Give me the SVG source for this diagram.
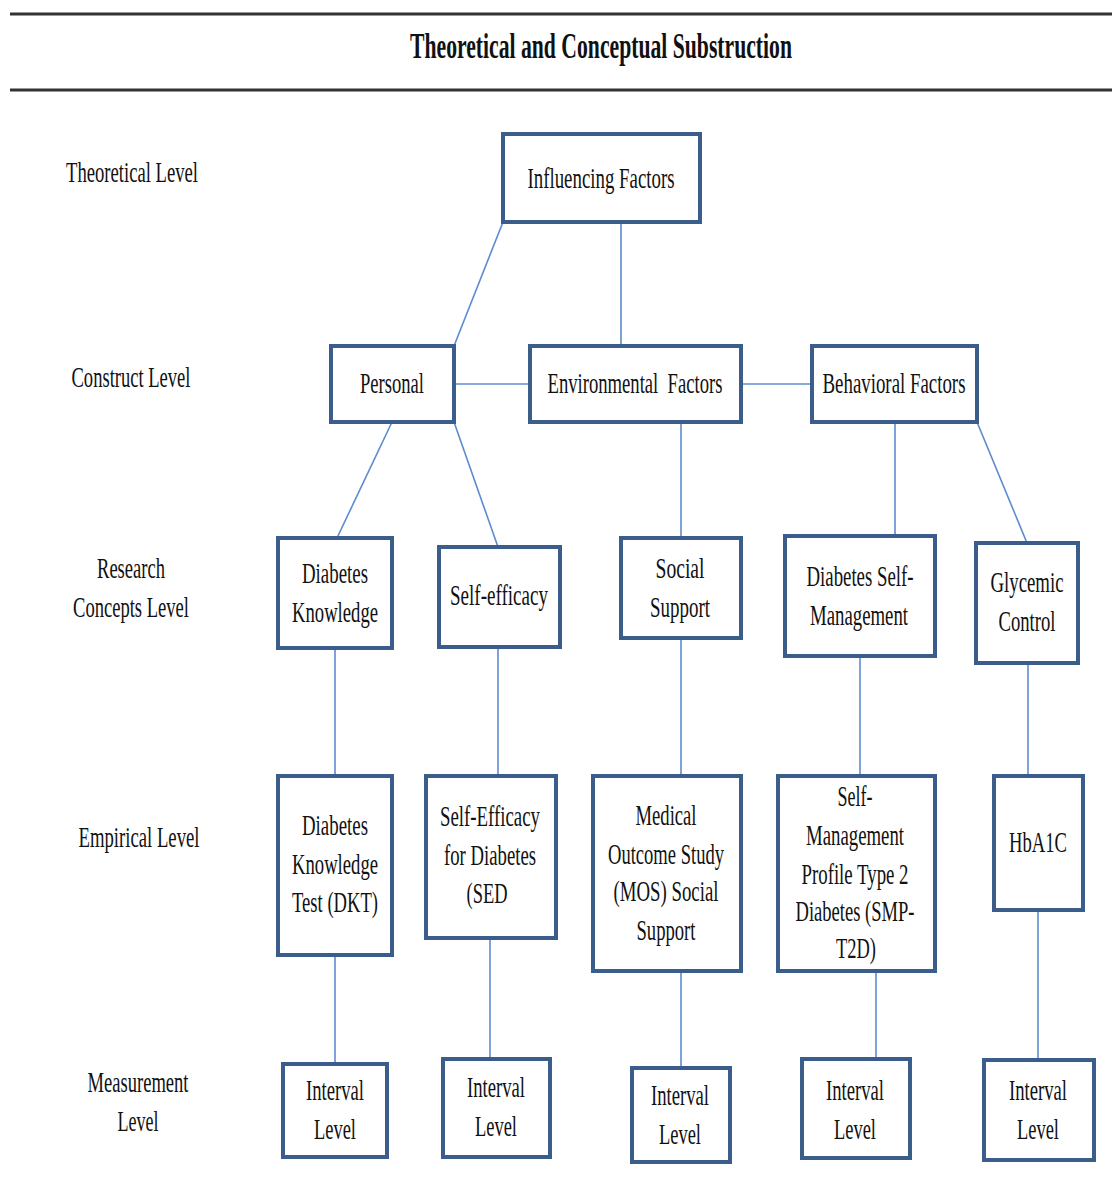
<svg xmlns="http://www.w3.org/2000/svg" width="1112" height="1187" viewBox="0 0 1112 1187">
<style>
text{font-family:"Liberation Serif","Times New Roman",serif;font-size:29px;fill:#111;text-anchor:middle}
.t{font-size:35px;font-weight:bold}
rect{fill:#fff;stroke:#3b5d8b;stroke-width:4}
#connectors line{stroke:#5b8bd0;stroke-width:1.6}
.rule{stroke:#333;stroke-width:3}
</style>
<rect width="1112" height="1187" style="fill:#fff;stroke:none"/>
<line class="rule" x1="10" y1="14" x2="1112" y2="14"/>
<line class="rule" x1="10" y1="90" x2="1112" y2="90"/>
<text class="t" x="601" y="58" textLength="382" lengthAdjust="spacingAndGlyphs">Theoretical and Conceptual Substruction</text>

<g id="level-labels">
<text x="132" y="182" textLength="132" lengthAdjust="spacingAndGlyphs">Theoretical Level</text>
<text x="131" y="387" textLength="119" lengthAdjust="spacingAndGlyphs">Construct Level</text>
<text x="131" y="578" textLength="68" lengthAdjust="spacingAndGlyphs">Research</text>
<text x="131" y="617" textLength="116" lengthAdjust="spacingAndGlyphs">Concepts Level</text>
<text x="139" y="847" textLength="121" lengthAdjust="spacingAndGlyphs">Empirical Level</text>
<text x="138" y="1092" textLength="101" lengthAdjust="spacingAndGlyphs">Measurement</text>
<text x="138" y="1131" textLength="41" lengthAdjust="spacingAndGlyphs">Level</text>
</g>

<g id="connectors">
<line x1="503" y1="222" x2="454" y2="346"/>
<line x1="621" y1="222" x2="621" y2="346"/>
<line x1="454" y1="384" x2="530" y2="384"/>
<line x1="741" y1="384" x2="812" y2="384"/>
<line x1="392" y1="422" x2="337" y2="538"/>
<line x1="454" y1="422" x2="498" y2="547"/>
<line x1="681" y1="422" x2="681" y2="538"/>
<line x1="895" y1="422" x2="895" y2="536"/>
<line x1="977" y1="422" x2="1027" y2="543"/>
<line x1="335" y1="648" x2="335" y2="776"/>
<line x1="498" y1="647" x2="498" y2="776"/>
<line x1="681" y1="638" x2="681" y2="776"/>
<line x1="860" y1="656" x2="860" y2="776"/>
<line x1="1028" y1="663" x2="1028" y2="776"/>
<line x1="335" y1="955" x2="335" y2="1064"/>
<line x1="490" y1="938" x2="490" y2="1059"/>
<line x1="681" y1="971" x2="681" y2="1068"/>
<line x1="876" y1="971" x2="876" y2="1059"/>
<line x1="1038" y1="910" x2="1038" y2="1060"/>
</g>

<g id="influencing-factors"><rect x="503" y="134" width="197" height="88"/>
<text x="601" y="188" textLength="147" lengthAdjust="spacingAndGlyphs">Influencing Factors</text></g>

<g id="personal"><rect x="331" y="346" width="123" height="76"/>
<text x="392" y="393" textLength="64" lengthAdjust="spacingAndGlyphs">Personal</text></g>
<g id="environmental-factors"><rect x="530" y="346" width="211" height="76"/>
<text x="635" y="393" textLength="175" lengthAdjust="spacingAndGlyphs">Environmental&#160; Factors</text></g>
<g id="behavioral-factors"><rect x="812" y="346" width="165" height="76"/>
<text x="894" y="393" textLength="143" lengthAdjust="spacingAndGlyphs">Behavioral Factors</text></g>

<g id="diabetes-knowledge"><rect x="278" y="538" width="114" height="110"/>
<text x="335" y="583" textLength="66" lengthAdjust="spacingAndGlyphs">Diabetes</text>
<text x="335" y="622" textLength="86" lengthAdjust="spacingAndGlyphs">Knowledge</text></g>
<g id="self-efficacy"><rect x="439" y="547" width="121" height="100"/>
<text x="499" y="605" textLength="98" lengthAdjust="spacingAndGlyphs">Self-efficacy</text></g>
<g id="social-support"><rect x="621" y="538" width="120" height="100"/>
<text x="680" y="578" textLength="49" lengthAdjust="spacingAndGlyphs">Social</text>
<text x="680" y="617" textLength="60" lengthAdjust="spacingAndGlyphs">Support</text></g>
<g id="diabetes-self-management"><rect x="785" y="536" width="150" height="120"/>
<text x="860" y="586" textLength="107" lengthAdjust="spacingAndGlyphs">Diabetes Self-</text>
<text x="859" y="625" textLength="98" lengthAdjust="spacingAndGlyphs">Management</text></g>
<g id="glycemic-control"><rect x="976" y="543" width="102" height="120"/>
<text x="1027" y="592" textLength="73" lengthAdjust="spacingAndGlyphs">Glycemic</text>
<text x="1027" y="631" textLength="57" lengthAdjust="spacingAndGlyphs">Control</text></g>

<g id="dkt"><rect x="278" y="776" width="114" height="179"/>
<text x="335" y="835" textLength="66" lengthAdjust="spacingAndGlyphs">Diabetes</text>
<text x="335" y="874" textLength="86" lengthAdjust="spacingAndGlyphs">Knowledge</text>
<text x="335" y="912" textLength="86" lengthAdjust="spacingAndGlyphs">Test (DKT)</text></g>
<g id="sed"><rect x="426" y="776" width="130" height="162"/>
<text x="490" y="826" textLength="100" lengthAdjust="spacingAndGlyphs">Self-Efficacy</text>
<text x="490" y="865" textLength="92" lengthAdjust="spacingAndGlyphs">for Diabetes</text>
<text x="487" y="903" textLength="41" lengthAdjust="spacingAndGlyphs">(SED</text></g>
<g id="mos"><rect x="593" y="776" width="148" height="195"/>
<text x="666" y="825" textLength="61" lengthAdjust="spacingAndGlyphs">Medical</text>
<text x="666" y="864" textLength="116" lengthAdjust="spacingAndGlyphs">Outcome Study</text>
<text x="666" y="901" textLength="105" lengthAdjust="spacingAndGlyphs">(MOS) Social</text>
<text x="666" y="940" textLength="59" lengthAdjust="spacingAndGlyphs">Support</text></g>
<g id="smp-t2d"><rect x="778" y="776" width="157" height="195"/>
<text x="855" y="806" textLength="35" lengthAdjust="spacingAndGlyphs">Self-</text>
<text x="855" y="845" textLength="98" lengthAdjust="spacingAndGlyphs">Management</text>
<text x="855" y="884" textLength="107" lengthAdjust="spacingAndGlyphs">Profile Type 2</text>
<text x="855" y="921" textLength="119" lengthAdjust="spacingAndGlyphs">Diabetes (SMP-</text>
<text x="856" y="958" textLength="40" lengthAdjust="spacingAndGlyphs">T2D)</text></g>
<g id="hba1c"><rect x="994" y="776" width="89" height="134"/>
<text x="1038" y="852" textLength="58" lengthAdjust="spacingAndGlyphs">HbA1C</text></g>

<g id="interval-1"><rect x="283" y="1064" width="104" height="93"/>
<text x="335" y="1100" textLength="58" lengthAdjust="spacingAndGlyphs">Interval</text>
<text x="335" y="1139" textLength="42" lengthAdjust="spacingAndGlyphs">Level</text></g>
<g id="interval-2"><rect x="443" y="1059" width="107" height="98"/>
<text x="496" y="1097" textLength="58" lengthAdjust="spacingAndGlyphs">Interval</text>
<text x="496" y="1136" textLength="42" lengthAdjust="spacingAndGlyphs">Level</text></g>
<g id="interval-3"><rect x="632" y="1068" width="98" height="94"/>
<text x="680" y="1105" textLength="58" lengthAdjust="spacingAndGlyphs">Interval</text>
<text x="680" y="1144" textLength="42" lengthAdjust="spacingAndGlyphs">Level</text></g>
<g id="interval-4"><rect x="802" y="1059" width="108" height="99"/>
<text x="855" y="1100" textLength="58" lengthAdjust="spacingAndGlyphs">Interval</text>
<text x="855" y="1139" textLength="42" lengthAdjust="spacingAndGlyphs">Level</text></g>
<g id="interval-5"><rect x="984" y="1060" width="110" height="100"/>
<text x="1038" y="1100" textLength="58" lengthAdjust="spacingAndGlyphs">Interval</text>
<text x="1038" y="1139" textLength="42" lengthAdjust="spacingAndGlyphs">Level</text></g>
</svg>
